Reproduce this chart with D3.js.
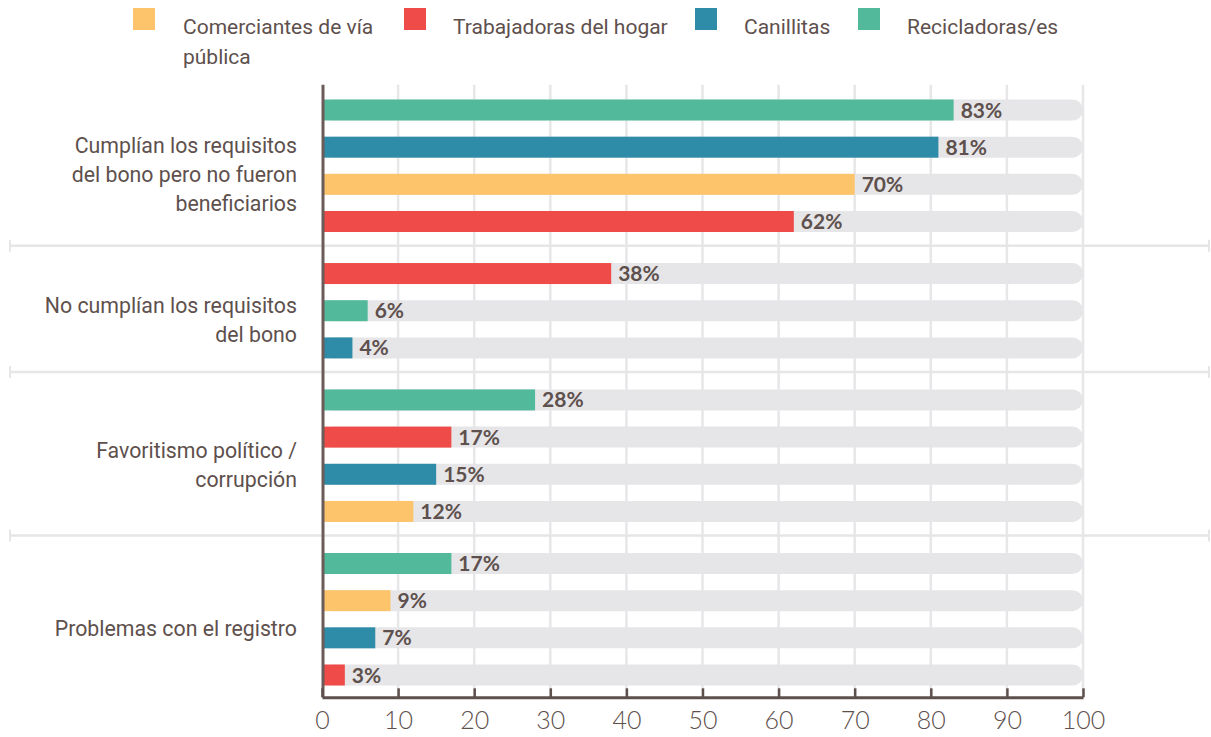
<!DOCTYPE html>
<html>
<head>
<meta charset="utf-8">
<script src="https://cdn.jsdelivr.net/npm/d3@7"></script>
<style>
  body { margin: 0; background: #fff; }
  svg { display: block; }
</style>
</head>
<body>
<svg id="chart"></svg>
<script>
var w = 1211;
var h = 737;

// series (legend order) and colours
var seriesNames = ["Comerciantes de vía pública", "Trabajadoras del hogar", "Canillitas", "Recicladoras/es"];
var seriesColors = ["#fdc46c", "#ef4b48", "#2f8ca8", "#52b99a"];

// category labels, already split in lines
var categoryLines = [
  ["Cumplían los requisitos", "del bono pero no fueron", "beneficiarios"],
  ["No cumplían los requisitos", "del bono"],
  ["Favoritismo político /", "corrupción"],
  ["Problemas con el registro"]
];

// values per series, one per category (null = not shown)
var comerciantes = [70, null, 12, 9];
var trabajadoras = [62, 38, 17, 3];
var canillitas   = [81, 4, 15, 7];
var recicladoras = [83, 6, 28, 17];

// order of the bars inside each category (index into seriesNames)
var barOrder = [[3, 2, 0, 1], [1, 3, 2], [3, 1, 2, 0], [3, 0, 2, 1]];

var xTicks = [0, 10, 20, 30, 40, 50, 60, 70, 80, 90, 100];

var textColor = "#5e504d";
var legendX = [133, 404, 695, 858]; // layout of the legend items

var seriesValues = [comerciantes, trabajadoras, canillitas, recicladoras];

// flatten to rows, with a slot number for the vertical position
var groupGap = 1.4;
var rows = [];
var groupInfo = [];
var slot = 0;
barOrder.forEach(function(order, gi) {
  var first = slot;
  order.forEach(function(si, i) {
    rows.push({ group: gi, series: si, value: seriesValues[si][gi], slot: slot });
    slot++;
  });
  groupInfo.push({ first: first, last: slot - 1 });
  slot = slot - 1 + groupGap;
});
var lastSlot = rows[rows.length - 1].slot;

var x = d3.scaleLinear().domain([0, 100]).range([322, 1083]);
var y = d3.scaleLinear().domain([0, lastSlot]).range([110, 675]);
var barH = 21;

var svg = d3.select("#chart").attr("width", w).attr("height", h);

var axisY = y(lastSlot + 0.6);
var topY = y(-0.68);

// vertical gridlines
svg.append("g")
  .selectAll("line")
  .data(xTicks.slice(1))
  .enter()
  .append("line")
  .attr("x1", d => x(d)).attr("x2", d => x(d))
  .attr("y1", topY).attr("y2", axisY)
  .attr("stroke", "#e7e7e9")
  .attr("stroke-width", 2.5);

// group separators
var seps = groupInfo.slice(0, -1).map(g => y(g.last + 0.65));
var sepG = svg.append("g");
sepG.selectAll("line.sep")
  .data(seps)
  .enter()
  .append("line")
  .attr("class", "sep")
  .attr("x1", 10).attr("x2", 1210)
  .attr("y1", d => d).attr("y2", d => d)
  .attr("stroke", "#e6e6e6")
  .attr("stroke-width", 2.5);
[10, 1209].forEach(function(cx) {
  sepG.selectAll(null)
    .data(seps)
    .enter()
    .append("line")
    .attr("x1", cx).attr("x2", cx)
    .attr("y1", d => d - 6).attr("y2", d => d + 6)
    .attr("stroke", "#e6e6e6")
    .attr("stroke-width", 2);
});

// grey tracks
svg.append("g")
  .selectAll("rect")
  .data(rows)
  .enter()
  .append("rect")
  .attr("x", x(0))
  .attr("y", d => y(d.slot) - barH / 2)
  .attr("width", x(100) - x(0))
  .attr("height", barH)
  .attr("rx", 10.5)
  .attr("fill", "#e6e6e8");

// bars
svg.append("g")
  .selectAll("rect")
  .data(rows)
  .enter()
  .append("rect")
  .attr("x", x(0))
  .attr("y", d => y(d.slot) - barH / 2)
  .attr("width", d => x(d.value) - x(0))
  .attr("height", barH)
  .attr("fill", d => seriesColors[d.series]);

// value labels
svg.append("g")
  .selectAll("text")
  .data(rows)
  .enter()
  .append("text")
  .attr("x", d => x(d.value) + 7)
  .attr("y", d => y(d.slot))
  .attr("dy", "0.36em")
  .attr("font-family", "Lato")
  .attr("font-weight", 700)
  .attr("font-size", 21)
  .attr("fill", textColor)
  .text(d => d.value + "%");

// left axis line
svg.append("line")
  .attr("x1", x(0) + 1).attr("x2", x(0) + 1)
  .attr("y1", topY).attr("y2", axisY)
  .attr("stroke", "#6b5c59")
  .attr("stroke-width", 3);

// x axis
var xAxis = svg.append("g")
  .attr("transform", "translate(0," + axisY + ")")
  .call(d3.axisBottom(x).tickValues(xTicks).tickSizeInner(-9).tickSizeOuter(0).tickPadding(14));
xAxis.select(".domain").attr("stroke", textColor).attr("stroke-width", 3);
xAxis.selectAll(".tick line").attr("stroke", textColor).attr("stroke-width", 2.5);
xAxis.selectAll(".tick text")
  .attr("font-family", "Lato")
  .attr("font-weight", 300)
  .attr("font-size", 25)
  .attr("fill", textColor);

// category labels
var lineH = 29;
svg.append("g")
  .selectAll("text")
  .data(categoryLines)
  .enter()
  .append("text")
  .attr("text-anchor", "end")
  .attr("font-family", "Roboto")
  .attr("font-size", 21.3)
  .attr("fill", textColor)
  .each(function(lines, gi) {
    var g = groupInfo[gi];
    var cy = (y(g.first) + y(g.last)) / 2 + 9;
    var t = d3.select(this);
    lines.forEach(function(l, i) {
      t.append("tspan")
        .attr("x", 297)
        .attr("y", cy + (i - (lines.length - 1) / 2) * lineH)
        .attr("dy", "0.35em")
        .text(l);
    });
  });

// legend
var legendLines = [["Comerciantes de vía", "pública"], ["Trabajadoras del hogar"], ["Canillitas"], ["Recicladoras/es"]];
var legend = svg.append("g")
  .selectAll("g")
  .data(seriesNames)
  .enter()
  .append("g")
  .attr("transform", (d, i) => "translate(" + legendX[i] + ",0)");
legend.append("rect")
  .attr("x", 0).attr("y", 8)
  .attr("width", 22).attr("height", 22)
  .attr("fill", (d, i) => seriesColors[i]);
legend.append("text")
  .attr("font-family", "Roboto")
  .attr("font-size", 21)
  .attr("fill", textColor)
  .each(function(d, i) {
    var t = d3.select(this);
    legendLines[i].forEach(function(l, j) {
      t.append("tspan")
        .attr("x", i === 0 ? 50 : 49)
        .attr("y", 34 + j * 30)
        .text(l);
    });
  });
</script>
</body>
</html>
